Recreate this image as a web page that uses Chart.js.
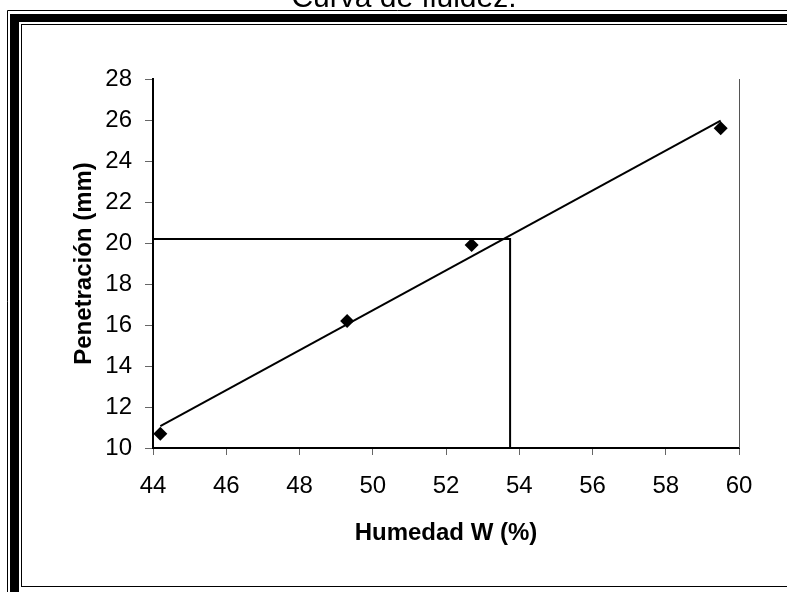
<!DOCTYPE html>
<html lang="es">
<head>
<meta charset="utf-8">
<title>Curva de fluidez</title>
<script src="https://cdn.jsdelivr.net/npm/chart.js@4.4.1/dist/chart.umd.min.js"></script>
<style>
  html, body { margin: 0; padding: 0; background: #fff; overflow: hidden; }
  #wrap { position: relative; width: 787px; height: 592px; overflow: hidden; }
  #titulo {
    position: absolute; left: 0; top: -18px; width: 808px;
    text-align: center; font: 30px/30px "Liberation Sans", Arial, sans-serif; color: #000;
  }
  canvas { position: absolute; left: 0; top: 0; }
</style>
</head>
<body>
<div id="wrap">
  <canvas id="curva" width="787" height="592"></canvas>
  <div id="titulo">Curva de fluidez.</div>
</div>
<script>
// Datos
const humedad = [44.2, 49.3, 52.7, 59.5];       // W (%)
const penetracion = [10.7, 16.2, 19.9, 25.6];   // mm
// Lectura del límite líquido sobre la recta
const limiteX = 53.75;
const limiteY = 20.2;
// Ejes
const xMin = 44, xMax = 60, xPaso = 2;
const yMin = 10, yMax = 28, yPaso = 2;

const FUENTE = "'Liberation Sans', Arial, sans-serif";

// Recta de ajuste por mínimos cuadrados
function ajusteLineal(xs, ys) {
  const n = xs.length;
  const mx = xs.reduce((a, b) => a + b, 0) / n;
  const my = ys.reduce((a, b) => a + b, 0) / n;
  let sxy = 0, sxx = 0;
  for (let i = 0; i < n; i++) {
    sxy += (xs[i] - mx) * (ys[i] - my);
    sxx += (xs[i] - mx) * (xs[i] - mx);
  }
  const m = sxy / sxx;
  return { m: m, b: my - m * mx };
}

const recta = ajusteLineal(humedad, penetracion);
const xIni = Math.min(...humedad);
const xFin = Math.max(...humedad);

// Marco doble tipo Excel y borde derecho del área de trazado
const marco = {
  id: "marco",
  beforeDraw(chart) {
    const ctx = chart.ctx;
    ctx.save();
    ctx.fillStyle = "#fff";
    ctx.fillRect(0, 0, chart.width, chart.height);
    ctx.strokeStyle = "#000";
    ctx.lineWidth = 1;
    ctx.beginPath();
    ctx.moveTo(7.5, 900);
    ctx.lineTo(7.5, 10.5);
    ctx.lineTo(900, 10.5);
    ctx.stroke();
    ctx.fillStyle = "#000";
    ctx.fillRect(10, 14, 9, 900);
    ctx.fillRect(10, 14, 900, 8);
    ctx.strokeRect(21.5, 24.5, 900, 562);
    ctx.restore();
  },
  afterDatasetsDraw(chart) {
    const a = chart.chartArea;
    const ctx = chart.ctx;
    ctx.save();
    ctx.strokeStyle = "#555";
    ctx.lineWidth = 1;
    ctx.beginPath();
    ctx.moveTo(Math.round(a.right) + 0.5, a.top);
    ctx.lineTo(Math.round(a.right) + 0.5, a.bottom);
    ctx.stroke();
    ctx.restore();
  }
};

new Chart(document.getElementById("curva"), {
  type: "scatter",
  data: {
    datasets: [
      {
        label: "Ensayos",
        data: humedad.map((x, i) => ({ x: x, y: penetracion[i] })),
        pointStyle: "rectRot",
        pointRadius: 7,
        backgroundColor: "#000",
        borderColor: "#000",
        borderWidth: 0,
        order: 1
      },
      {
        label: "Ajuste",
        type: "line",
        data: [
          { x: xIni, y: recta.m * xIni + recta.b },
          { x: xFin, y: recta.m * xFin + recta.b }
        ],
        borderColor: "#000",
        borderWidth: 2,
        pointRadius: 0,
        fill: false,
        order: 2
      },
      {
        label: "Límite líquido",
        type: "line",
        data: [
          { x: xMin, y: limiteY },
          { x: limiteX, y: limiteY },
          { x: limiteX, y: yMin }
        ],
        borderColor: "#000",
        borderWidth: 2,
        pointRadius: 0,
        fill: false,
        order: 3
      }
    ]
  },
  options: {
    responsive: false,
    devicePixelRatio: 1,
    animation: false,
    layout: { padding: { top: 79, right: 48, left: 0, bottom: 0 } },
    plugins: {
      legend: { display: false },
      tooltip: { enabled: false }
    },
    scales: {
      x: {
        type: "linear",
        min: xMin,
        max: xMax,
        afterFit(scale) { scale.height = 144; },
        ticks: {
          stepSize: xPaso,
          color: "#000",
          padding: 17,
          font: { family: FUENTE, size: 24 }
        },
        grid: { drawOnChartArea: false, tickLength: 7, tickColor: "#666", tickWidth: 1 },
        border: { color: "#000", width: 2 },
        title: {
          display: true,
          text: "Humedad W (%)",
          color: "#000",
          padding: { top: 0, bottom: 44 },
          font: { family: FUENTE, size: 24, weight: "bold" }
        }
      },
      y: {
        type: "linear",
        min: yMin,
        max: yMax,
        afterFit(scale) { scale.width = 153; },
        ticks: {
          stepSize: yPaso,
          color: "#000",
          padding: 13,
          font: { family: FUENTE, size: 24 }
        },
        grid: { drawOnChartArea: false, tickLength: 8, tickColor: "#666", tickWidth: 1 },
        border: { color: "#000", width: 2 },
        title: {
          display: true,
          text: "Penetración (mm)",
          color: "#000",
          padding: { top: 70, bottom: 0 },
          font: { family: FUENTE, size: 24, weight: "bold" }
        }
      }
    }
  },
  plugins: [marco]
});
</script>
</body>
</html>
